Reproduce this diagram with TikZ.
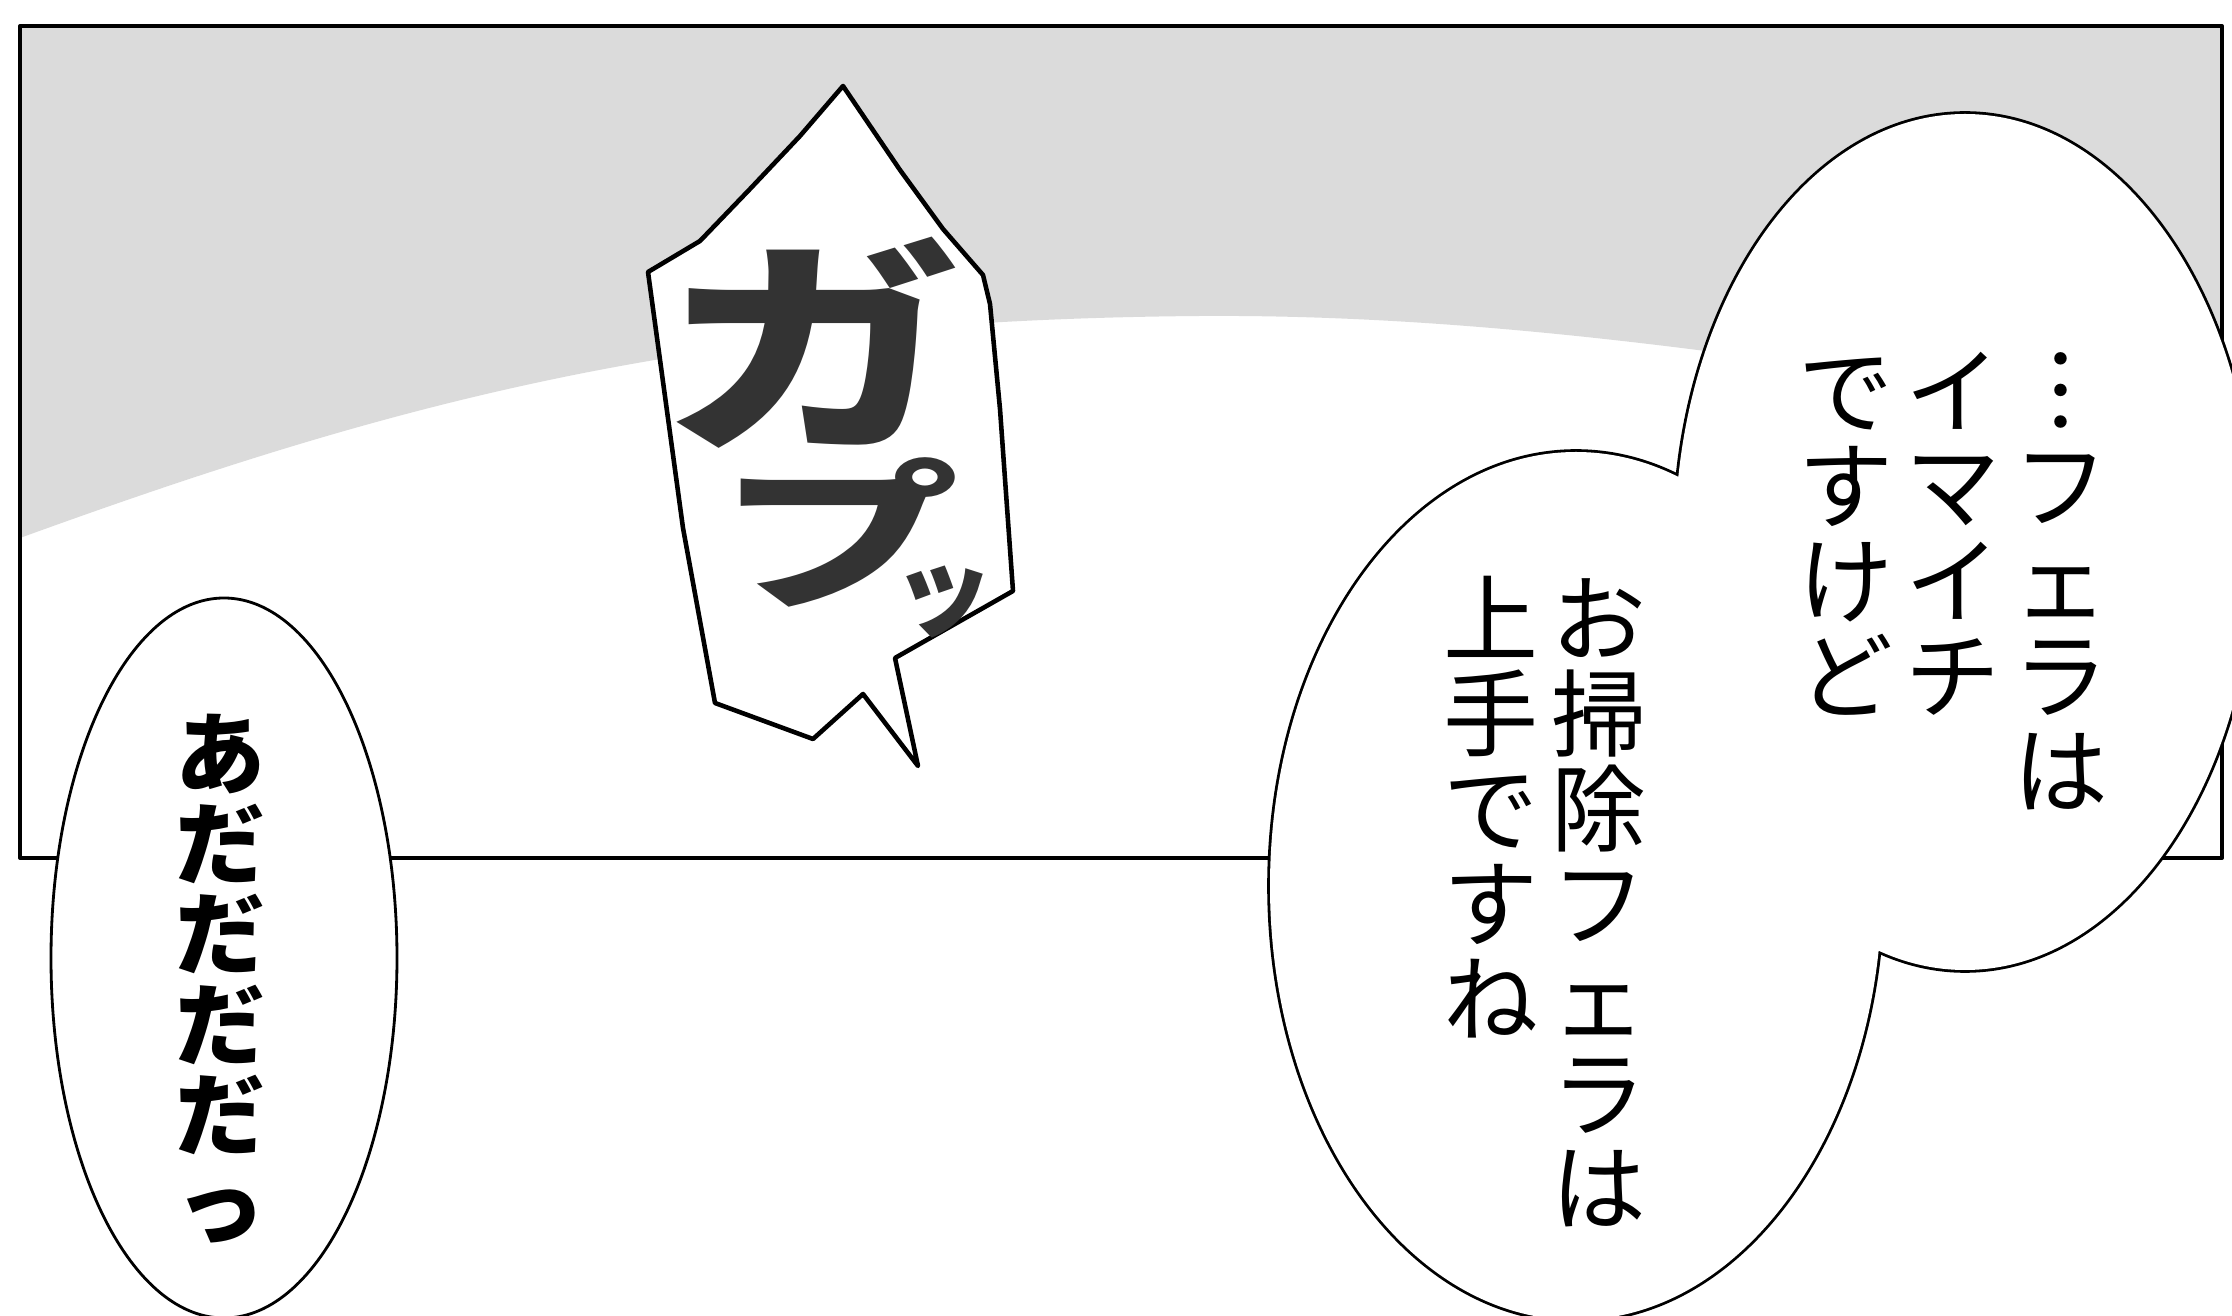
\documentclass[tikz,border=0pt]{standalone}
\usepackage{fontspec}
\newfontfamily\jpfont{Noto Sans CJK JP}
\newfontfamily\sfxfont{Noto Sans CJK JP}

% one character under the other, 1em apart
\newcommand\tate[1]{\vbox{\offinterlineskip\tateloop#1\relax}}
\def\tateloop#1{\ifx\relax#1\else\hbox to 1em{\hss\vrule height .88em depth .12em width 0pt\relax#1\hss}\expandafter\tateloop\fi}

\begin{document}
\begin{tikzpicture}[x=0.01cm, y=-0.01cm, line join=round,
    tone/.style={fill=black!14},
    frame/.style={draw, line width=1.1pt},
    talk/.style={font=\jpfont\fontsize{27pt}{27pt}\selectfont, inner sep=0pt, anchor=north},
    shout/.style={font=\jpfont\bfseries\fontsize{25.6pt}{25.6pt}\selectfont, inner sep=0pt, anchor=north},
    sfx/.style={text=black!80, inner sep=0pt}]

\useasboundingbox (0,0) rectangle (2232,1316);

% screentone and panel border
\fill[tone] (20,26) -- (20,538) .. controls (400,400) and (700,320) .. (1200,316)
    .. controls (1500,314) and (1800,360) .. (2222,430) -- (2222,26) -- cycle;
\draw[frame] (20,26) rectangle (2222,858);

% sound effect bubble
\draw[fill=white, line width=1.3pt] (843,86) -- (900,170) -- (943,229) -- (983,275) -- (990,304)
    -- (1000,409) -- (1013,591) -- (895,658) -- (918,766) -- (863,694) -- (813,739)
    -- (715,703) -- (683,528) -- (648,272) -- (700,241) -- (750,189) -- (800,136) -- cycle;
\node[sfx, font=\sfxfont\bfseries\fontsize{74pt}{74pt}\selectfont] (ga) at (812,343) {\scalebox{1.15}[0.88]{ガ}};
\node[sfx, font=\sfxfont\bfseries\fontsize{57pt}{57pt}\selectfont] (pu) at (840,548)
    {\scalebox{1.2}[0.8]{プ}\llap{\raisebox{-0.31cm}{\fontsize{29pt}{29pt}\selectfont ッ}\hspace{-0.34cm}}};

% left bubble
\draw[fill=white, line width=0.8pt] (224,958) ellipse (173 and 360);
\node[shout] (ada) at (221,708) {\tate{あだだだだっ}};

% the two joined bubbles on the right
\draw[line width=1.6pt] (1965,542) ellipse (290 and 428) (1576,886) ellipse (306 and 434);
\fill[white] (1965,542) ellipse (290 and 428) (1576,886) ellipse (306 and 434);

\node[talk] (fera) at (2061,342) {\tate{︙フェラは}};
\node[talk] (imaichi) at (1953,342) {\tate{イマイチ}};
\node[talk] (desukedo) at (1846,342) {\tate{ですけど}};
\node[talk] (souji) at (1599,570) {\tate{お掃除フェラは}};
\node[talk] (jouzu) at (1491,570) {\tate{上手ですね}};

\end{tikzpicture}
\end{document}
